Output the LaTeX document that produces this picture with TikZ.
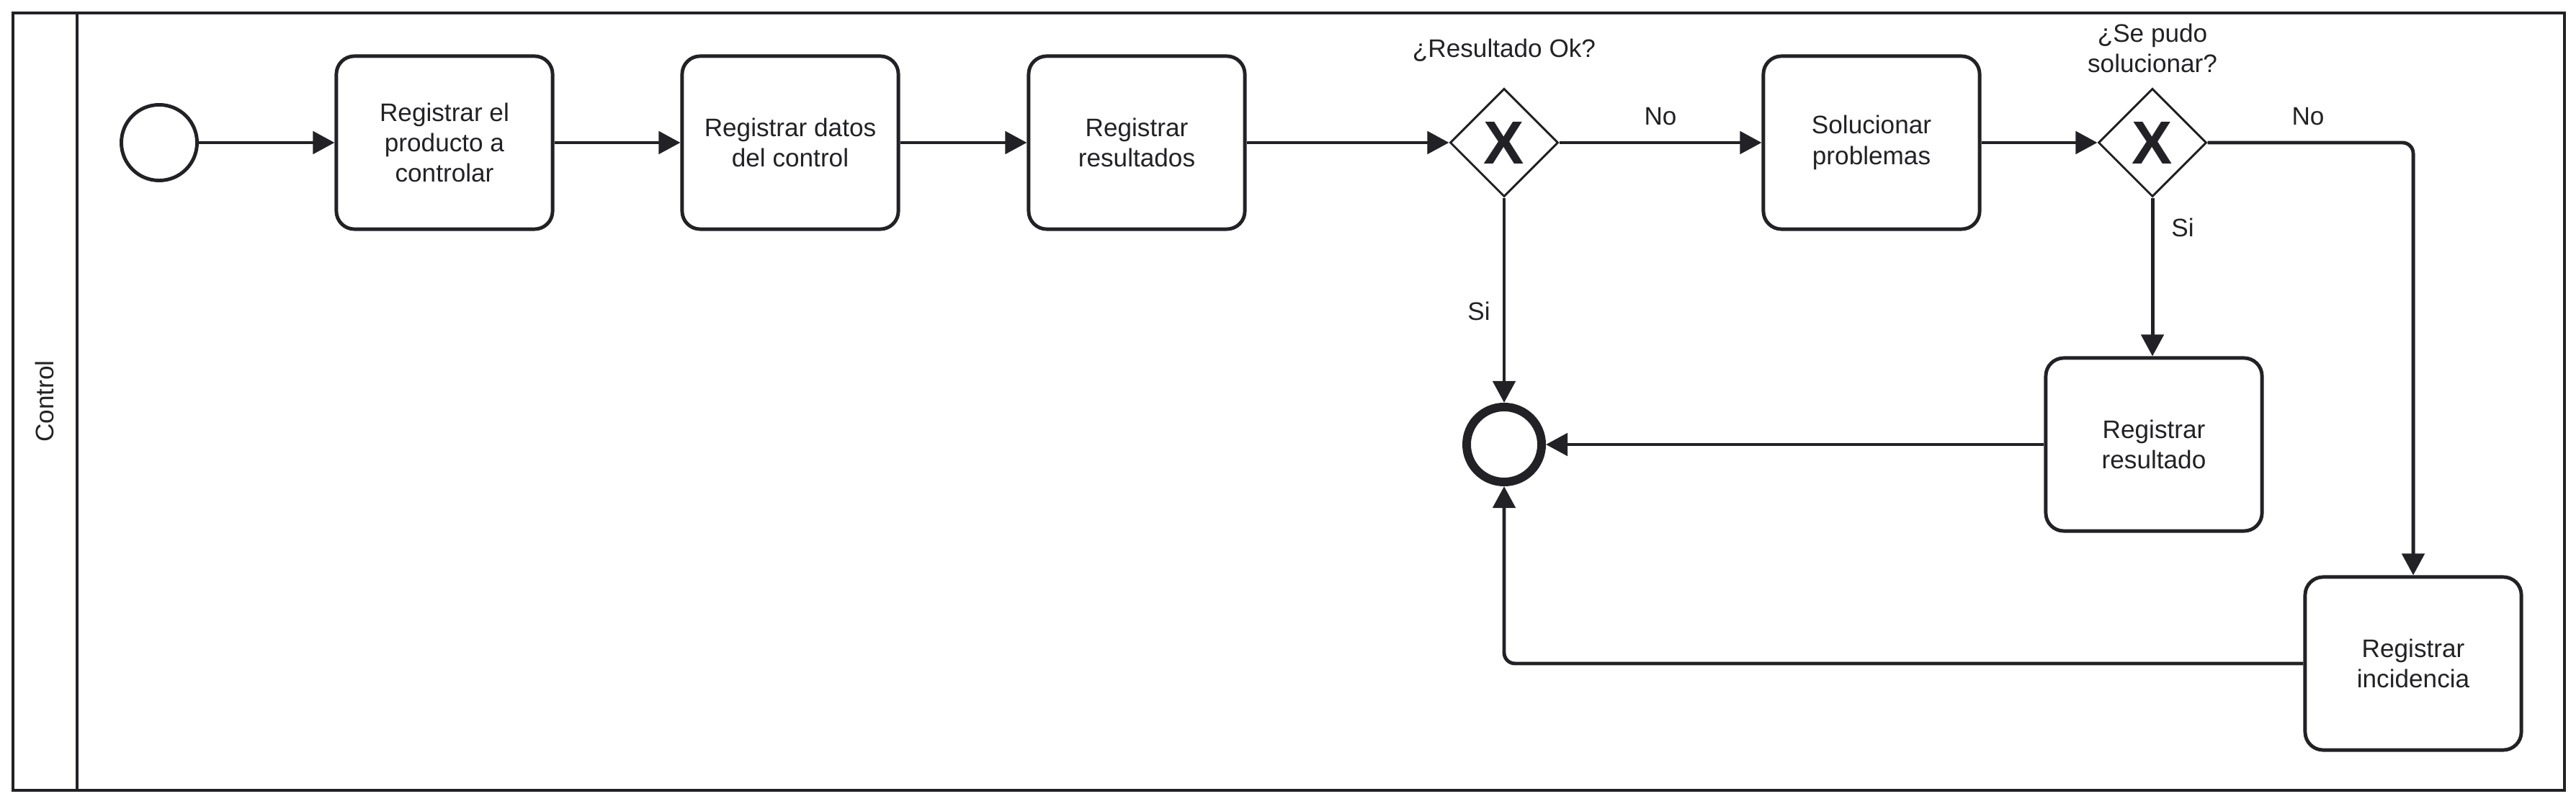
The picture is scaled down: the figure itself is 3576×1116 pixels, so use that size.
\documentclass[tikz,border=0pt]{standalone}
\usepackage{fontspec}
\setmainfont{Liberation Sans}
\usetikzlibrary{arrows.meta}
\usetikzlibrary{shapes.geometric}

\definecolor{bpmnline}{RGB}{34,34,38}

\tikzset{
	task/.style={draw=bpmnline, line width=1.4pt, rounded corners=0.25cm, minimum width=3cm, minimum height=2.4cm, align=center, text=bpmnline, inner sep=0pt},
	gateway/.style={draw=bpmnline, line width=0.85pt, diamond, minimum size=1.5cm, inner sep=0pt, text=bpmnline, font=\fontsize{24}{24}\selectfont\bfseries},
	startev/.style={draw=bpmnline, line width=1.4pt, circle, minimum size=1.05cm, inner sep=0pt},
	endev/.style={draw=bpmnline, line width=3.4pt, circle, minimum size=1.04cm, inner sep=0pt},
	flow/.style={draw=bpmnline, line width=1.4pt, -{Triangle[length=0.3cm, width=0.31cm]}},
	lbl/.style={text=bpmnline, align=center, inner sep=0pt}
}

\begin{document}
\begin{tikzpicture}[x=0.01cm, y=-0.01cm, font=\fontsize{10}{12}\selectfont]
	\useasboundingbox (0,0) rectangle (3576,1116);
	% pool
	\draw [bpmnline, line width=1.1pt] (18,18) rectangle (3560,1097);
	\draw [bpmnline, line width=1.1pt] (107,18) -- (107,1097);
	\node [lbl, rotate=90] (lane) at (62,557) {Control};

	% events
	\node [startev] (start) at (221,198) {};
	\node [endev] (fin) at (2088,617) {};

	% tasks
	\node [task] (prod) at (617,198) {Registrar el\\producto a\\controlar};
	\node [task] (datos) at (1097,198) {Registrar datos\\del control};
	\node [task] (res) at (1578,198) {Registrar\\resultados};
	\node [task] (sol) at (2598,198) {Solucionar\\problemas};
	\node [task] (resul) at (2990,617) {Registrar\\resultado};
	\node [task] (inc) at (3350,921) {Registrar\\incidencia};

	% gateways
	\node [gateway] (okgw) at (2088,198) {X};
	\node [gateway] (solgw) at (2988,198) {X};
	\node [lbl] (okq) at (2088,70) {¿Resultado Ok?};
	\node [lbl] (solq) at (2988,67) {¿Se pudo\\solucionar?};

	% flows
	\draw [flow] (start) -- (prod);
	\draw [flow] (prod) -- (datos);
	\draw [flow] (datos) -- (res);
	\draw [flow] (res) -- (okgw.west);
	\draw [flow] (okgw.east) -- (sol);
	\draw [flow] (sol) -- (solgw.west);
	\draw [flow] (okgw.south) -- (fin);
	\draw [flow] (solgw.south) -- (resul.north -| solgw.south);
	\draw [flow, rounded corners=0.15cm] (solgw.east) -| (inc.north);
	\draw [flow] (resul) -- (fin);
	\draw [flow, rounded corners=0.15cm] (inc.west) -| (fin.south);

	% labels
	\node [lbl] (okno) at (2305,162) {No};
	\node [lbl] (oksi) at (2053,432) {Si};
	\node [lbl] (solsi) at (3030,316) {Si};
	\node [lbl] (solno) at (3204,162) {No};
\end{tikzpicture}
\end{document}
